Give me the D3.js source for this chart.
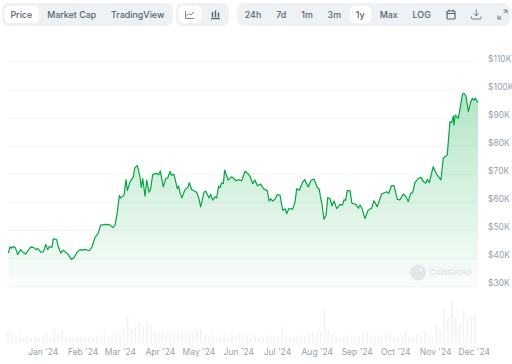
<!DOCTYPE html>
<html>
<head>
<meta charset="utf-8">
<script src="https://cdn.jsdelivr.net/npm/d3@7"></script>
<style>
html, body { margin: 0; padding: 0; background: #fff; }
svg { display: block; font-family: Inter, sans-serif; }
.axis path, .axis line { stroke: none; }
.axis text { fill: #97a1af; font-size: 8.5px; font-family: Inter, sans-serif; }
.xAxis line { stroke: #f4f5f8; }
</style>
</head>
<body>
<script>
// days since 5 Dec 2023
var priceDays = [0.3, 1.6, 2.8, 4.1, 5.7, 7.5, 9.8, 11.9, 13.7, 15.8, 17.6, 19.7, 21.8, 23.3, 25.4, 27.5, 29.3, 30.8, 32.1, 34.2, 35.2, 37.8, 39.1, 41, 43, 44.8, 46.6, 49.2, 51.3, 53.6, 56, 57.5, 59.6, 63.2, 65.3, 67.6, 70, 72, 76.2, 79.3, 81.4, 83.2, 85, 86.5, 87.6, 90.2, 91.7, 92.8, 94.8, 97.4, 98.5, 100.5, 102.6, 103.6, 104.7, 106.5, 107.8, 109.6, 110.9, 112.5, 115.6, 117.1, 118.4, 120.7, 122.6, 124.1, 125.9, 127.2, 129, 131.6, 132.6, 133.7, 135.2, 137.3, 139.9, 140.9, 142.7, 146.6, 148.4, 149.7, 151, 152.3, 153.9, 156.2, 157.5, 159.1, 160.9, 162.2, 163.7, 164.8, 166.1, 167.4, 168.4, 171.2, 173.8, 175.6, 177.2, 179, 181.6, 184.2, 186, 188.1, 190.2, 192, 193.8, 196.4, 198.5, 201.6, 202.9, 204.1, 205.7, 207.5, 209.3, 211.4, 213.5, 215.5, 216.6, 218.4, 221.2, 223.1, 224.4, 226.4, 228.8, 230.6, 233.4, 235.5, 237.8, 240.4, 242, 243, 244, 245.6, 247.2, 248.5, 250.3, 251.8, 253.4, 255.5, 258, 260.1, 261.1, 262.4, 263.7, 265.8, 267.3, 270.4, 272.3, 273.5, 275.1, 277.4, 280, 282.6, 284.4, 287, 290.4, 294.3, 295.8, 298.2, 300, 302.6, 304.6, 307.2, 309.3, 311.1, 312.9, 314.5, 316.3, 318.9, 321, 322.8, 324.8, 325.9, 327.4, 330.5, 333.1, 336.5, 338.3, 341.4, 343.5, 344.8, 346.1, 346.6, 347.6, 350, 353.3, 354.4, 355.9, 357.8, 359.6, 360.9, 362.2, 363.2, 365.3];
// price in thousands of USD
var priceValues = [42, 44.2, 43.7, 44.3, 43.9, 41.4, 43.2, 42.2, 41.6, 43, 44.1, 44, 43.2, 43.6, 42.3, 42.4, 45, 43.2, 44.3, 44, 47, 46.8, 44.2, 42, 43, 42.2, 41.6, 39.7, 40.3, 42.2, 43.2, 43, 43.3, 42.8, 44.2, 47.5, 48.9, 51.9, 52.2, 52, 51, 51.9, 56.6, 62.4, 61.6, 62.6, 68.1, 64.3, 67.3, 69.1, 72.3, 73.1, 69.1, 65.3, 68.5, 62.2, 67.9, 63.6, 64.9, 70, 70.3, 69.9, 71.2, 65.5, 68.5, 68.7, 71, 69.7, 70, 64.9, 65.8, 63.4, 61.6, 64.3, 65.5, 67, 64.6, 63.6, 61.4, 58.4, 60.8, 63.7, 63.9, 61.6, 62.9, 60.8, 62, 61.6, 65.8, 65.3, 67, 66.7, 71.5, 67.9, 69.1, 68.5, 67.7, 68.1, 67.7, 71.1, 70.5, 69.3, 66.7, 67.9, 65.9, 66.5, 64.9, 64.1, 60.5, 61.3, 60.5, 61.1, 62.8, 62.6, 57.2, 57.7, 56, 57.9, 57.5, 60.2, 64.9, 64.3, 67, 68.1, 65.5, 67.9, 68.3, 65.3, 64.6, 61.4, 59.6, 54, 55.4, 61.7, 61.3, 58.8, 60.5, 57.8, 59.2, 59.1, 60.9, 60.7, 64.2, 64.2, 59.7, 59.3, 57.9, 59.1, 57.9, 54.3, 57.3, 57.9, 60.6, 58.5, 63, 63.8, 63.2, 66, 66, 61.1, 60.9, 63, 62, 60.3, 63.2, 63.5, 67, 68.6, 68.9, 67.4, 66.8, 68.2, 67, 72.7, 70.1, 68, 75.7, 76.9, 88.7, 88.4, 90.7, 87.5, 91.1, 89.9, 98.6, 98.8, 97.9, 92.3, 95.8, 97, 96.4, 97.1, 95.5];
// relative volume, one value every 3 days
var volumeValues = [11, 10, 7, 8, 6, 7, 5, 7, 6, 8, 10, 6, 14, 9, 12, 7, 6, 5, 7, 5, 6, 6, 5, 7, 8, 12, 7, 8, 10, 12, 15, 27, 14, 16, 22, 17, 22, 18, 12, 10, 12, 9, 11, 9, 10, 12, 10, 9, 12, 13, 14, 9, 7, 8, 6, 7, 9, 6, 8, 7, 9, 7, 8, 6, 8, 6, 7, 8, 7, 6, 7, 16, 9, 7, 6, 7, 8, 7, 9, 10, 9, 12, 33, 12, 8, 7, 6, 6, 7, 8, 6, 7, 9, 10, 7, 8, 7, 8, 9, 10, 7, 6, 8, 12, 7, 6, 8, 7, 11, 9, 7, 18, 14, 35, 25, 43, 26, 20, 33, 24, 26, 28];
var monthTicks = ['2024-01-01', '2024-02-01', '2024-03-01', '2024-04-01', '2024-05-01', '2024-06-01', '2024-07-01', '2024-08-01', '2024-09-01', '2024-10-01', '2024-11-01', '2024-12-01'];
var priceTicks = [30, 40, 50, 60, 70, 80, 90, 100, 110];
var chartTabs = ['Price', 'Market Cap', 'TradingView'];
var rangeTabs = ['24h', '7d', '1m', '3m', '1y', 'Max', 'LOG'];

var width = 512;
var height = 364;
var left = 8;
var right = 478;
var startDate = new Date(2023, 11, 5);
var parseDay = d3.timeParse('%Y-%m-%d');

function dayToDate(d) {
	return new Date(startDate.getTime() + d * 86400000);
}

var svg = d3.select('body').append('svg')
	.attr('width', width)
	.attr('height', height);

var xScale = d3.scaleTime()
	.domain([dayToDate(0), dayToDate(365.3)])
	.range([left, right]);

var yScale = d3.scaleLinear()
	.domain([30, 100])
	.range([286.7, 90]);

var volumeScale = d3.scaleLinear()
	.domain([0, 43])
	.range([343, 300]);

function drawToolbar() {
	var panels = [[2, 171], [176, 53], [237, 273]];
	svg.selectAll('rect.panel')
		.data(panels).enter()
		.append('rect')
		.attr('class', 'panel')
		.attr('x', function(d) { return d[0]; })
		.attr('y', 3)
		.attr('width', function(d) { return d[1]; })
		.attr('height', 23)
		.attr('rx', 7)
		.attr('fill', '#eff2f5');

	var selected = [[4.5, 34.5], [178.5, 23], [350, 21]];
	svg.selectAll('rect.selected')
		.data(selected).enter()
		.append('rect')
		.attr('class', 'selected')
		.attr('x', function(d) { return d[0]; })
		.attr('y', 6)
		.attr('width', function(d) { return d[1]; })
		.attr('height', 17)
		.attr('rx', 5)
		.attr('fill', '#fff');

	var chartTabX = [21.3, 71.7, 137.7];
	var rangeTabX = [253, 281.3, 307, 334.3, 360.3, 388.7, 421.7];

	function tabLabels(labels, xs) {
		svg.append('g').selectAll('text')
			.data(labels).enter()
			.append('text')
			.text(function(d) { return d; })
			.attr('x', function(d, i) { return xs[i]; })
			.attr('y', 18)
			.attr('text-anchor', 'middle')
			.attr('font-size', 8.9)
			.attr('font-weight', 500)
			.attr('fill', '#566373');
	}
	tabLabels(chartTabs, chartTabX);
	tabLabels(rangeTabs, rangeTabX);

	var icons = svg.append('g')
		.attr('fill', 'none')
		.attr('stroke', '#566373')
		.attr('stroke-width', 0.8);
	// line chart
	icons.append('path').attr('d', 'M185.5 11v7.5h8.5M186.5 16l2.5-2.5 2 1.5 3-3');
	// candles
	icons.append('path').attr('d', 'M211 18.5h9M212.5 12v5M215.5 10.5v6.5M218.5 12.5v4.5').attr('stroke-width', 1.4);
	// calendar
	icons.append('rect').attr('x', 447).attr('y', 11).attr('width', 8).attr('height', 8).attr('rx', 1).attr('stroke-width', 1.2);
	icons.append('path').attr('d', 'M447 13.5h8M449 9.5v2M453 9.5v2').attr('stroke-width', 1.2);
	// download
	icons.append('path').attr('d', 'M476.3 9.5v6.5M473.8 13.5l2.5 2.5 2.5-2.5M471.5 16.5v1.5a1 1 0 0 0 1 1h7.6a1 1 0 0 0 1-1v-1.5');
	// expand
	icons.append('path').attr('d', 'M498 19l3.3-3.3M498 15.5V19h3.5M507 10l-3.3 3.3M503.5 10H507v3.5');
}

function drawGrid() {
	svg.append('g').selectAll('line')
		.data(priceTicks).enter()
		.append('line')
		.attr('x1', left)
		.attr('x2', right)
		.attr('y1', function(d) { return yScale(d); })
		.attr('y2', function(d) { return yScale(d); })
		.attr('stroke', '#f2f4f7');
}

function drawVolume() {
	svg.append('g').selectAll('rect')
		.data(volumeValues).enter()
		.append('rect')
		.attr('x', function(d, i) { return xScale(dayToDate(i * 3)) - 1; })
		.attr('y', function(d) { return volumeScale(d); })
		.attr('width', 2)
		.attr('height', function(d) { return volumeScale(0) - volumeScale(d); })
		.attr('fill', '#f3f4f7');
}

function drawPrice() {
	var points = priceDays.map(function(d, i) { return {date: dayToDate(d), value: priceValues[i]}; });

	var gradient = svg.append('defs').append('linearGradient')
		.attr('id', 'priceFill')
		.attr('gradientUnits', 'userSpaceOnUse')
		.attr('x1', 0).attr('x2', 0)
		.attr('y1', yScale(100)).attr('y2', yScale(30));
	gradient.append('stop').attr('offset', 0).attr('stop-color', '#00a83e').attr('stop-opacity', 0.3);
	gradient.append('stop').attr('offset', 1).attr('stop-color', '#00a83e').attr('stop-opacity', 0.02);

	var area = d3.area()
		.x(function(d) { return xScale(d.date); })
		.y0(yScale(30))
		.y1(function(d) { return yScale(d.value); });

	var line = d3.line()
		.x(function(d) { return xScale(d.date); })
		.y(function(d) { return yScale(d.value); });

	svg.append('path')
		.attr('d', area(points))
		.attr('fill', 'url(#priceFill)');

	svg.append('path')
		.attr('d', line(points))
		.attr('fill', 'none')
		.attr('stroke', '#00a83e')
		.attr('stroke-width', 1.2)
		.attr('stroke-linejoin', 'round');
}

function drawWatermark() {
	var mark = svg.append('g').attr('fill', '#e3e5e8');
	mark.append('circle').attr('cx', 418).attr('cy', 272.5).attr('r', 8);
	mark.append('circle').attr('cx', 420.5).attr('cy', 270).attr('r', 1.6).attr('fill', '#f4f6f5');
	mark.append('text')
		.text('CoinGecko')
		.attr('x', 429.5)
		.attr('y', 275.3)
		.attr('font-size', 8)
		.attr('font-weight', 600);
}

function drawAxes() {
	svg.append('g')
		.attr('class', 'axis xAxis')
		.attr('transform', 'translate(0,343)')
		.call(d3.axisBottom(xScale)
			.tickValues(monthTicks.map(function(d) { return parseDay(d); }))
			.tickSize(5)
			.tickPadding(1)
			.tickFormat(d3.timeFormat("%b '%y")));

	svg.append('g')
		.attr('class', 'axis yAxis')
		.attr('transform', 'translate(' + right + ',-3.5)')
		.call(d3.axisRight(yScale)
			.tickValues(priceTicks)
			.tickSize(0)
			.tickPadding(10)
			.tickFormat(function(d) { return '$' + d + 'K'; }));
}

drawToolbar();
drawGrid();
drawVolume();
drawPrice();
drawWatermark();
drawAxes();
</script>
</body>
</html>
